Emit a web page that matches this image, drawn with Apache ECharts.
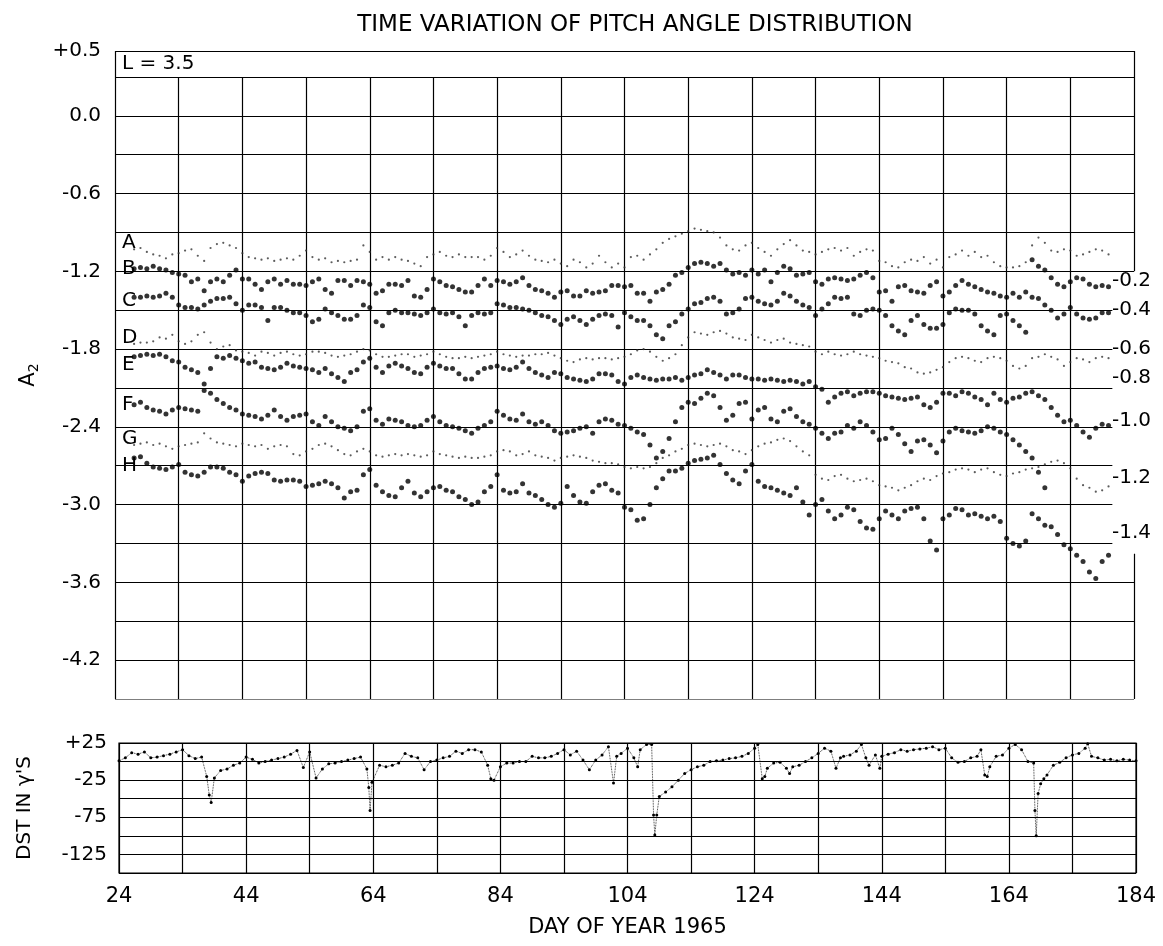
<!DOCTYPE html>
<html><head><meta charset="utf-8">
<script src="https://cdn.jsdelivr.net/npm/echarts@6/dist/echarts.min.js"></script>
<style>html,body{margin:0;padding:0;background:#fff}#c{width:1163px;height:946px}</style>
</head><body><div id="c"></div>
<script>
// ---------- DATA ----------
const FIRST_DAY = 27; // first plotted day of the A..H curves (one value per day)

const seriesA = [
-1.03,-1.02,-1.05,-1.07,-1.08,-1.10,-1.07,-1.06,-1.04,-1.03,-1.08,-1.12,-1.02,-0.99,-0.98,-1.00,-1.02,-1.06,-1.09,-1.10,-1.11,-1.10,-1.12,-1.11,-1.10,
-1.11,-1.08,-1.04,-1.09,-1.11,-1.10,-1.13,-1.12,-1.13,-1.12,-1.11,-1.00,-1.05,-1.11,-1.09,-1.11,-1.09,-1.11,-1.12,-1.14,-1.16,-1.09,-1.07,-1.05,-1.08,-1.09,-1.07,-1.09,
-1.09,-1.09,-1.11,-1.08,-1.02,-1.05,-1.09,-1.07,-1.04,-1.08,-1.11,-1.12,-1.13,-1.11,-1.14,-1.16,-1.11,-1.13,-1.17,-1.14,-1.08,-1.13,-1.17,-1.14,-1.17,-1.09,-1.08,
-1.11,-1.07,-1.03,-0.98,-0.95,-0.93,-0.91,-0.89,-0.87,-0.88,-0.89,-0.90,-0.94,-1.00,-1.03,-1.04,-1.00,-0.98,-1.02,-1.05,-1.08,-1.03,-0.99,-0.96,-1.00,-1.04,-1.05,
-1.07,-1.05,-1.03,-1.02,-1.04,-1.02,-1.08,-1.05,-1.03,-1.04,-1.12,-1.13,-1.16,-1.17,-1.13,-1.11,-1.12,-1.09,-1.14,-1.11,-1.17,-1.09,-1.07,-1.04,-1.08,-1.05,-1.09,-1.08,
-1.13,-1.16,-1.17,-1.17,-1.16,-1.13,-1.00,-0.94,-0.98,-1.04,-1.05,-1.03,-1.04,-1.08,-1.07,-1.05,-1.03,-1.04,-1.07];

const seriesB = [
-1.18,-1.17,-1.18,-1.16,-1.18,-1.19,-1.21,-1.22,-1.23,-1.28,-1.26,-1.35,-1.28,-1.26,-1.28,-1.23,-1.19,-1.26,-1.26,-1.30,-1.34,-1.28,-1.26,-1.30,-1.27,
-1.30,-1.30,-1.31,-1.28,-1.26,-1.34,-1.37,-1.27,-1.27,-1.31,-1.27,-1.28,-1.30,-1.37,-1.35,-1.30,-1.30,-1.31,-1.27,-1.39,-1.40,-1.34,-1.26,-1.28,-1.31,-1.32,-1.34,-1.36,
-1.36,-1.31,-1.26,-1.31,-1.27,-1.28,-1.30,-1.28,-1.25,-1.31,-1.34,-1.35,-1.37,-1.40,-1.36,-1.35,-1.39,-1.39,-1.35,-1.37,-1.36,-1.35,-1.31,-1.31,-1.32,-1.31,-1.37,
-1.37,-1.43,-1.36,-1.34,-1.30,-1.23,-1.21,-1.17,-1.14,-1.13,-1.14,-1.16,-1.14,-1.19,-1.22,-1.21,-1.23,-1.19,-1.22,-1.19,-1.28,-1.21,-1.16,-1.18,-1.23,-1.22,-1.21,
-1.28,-1.30,-1.26,-1.25,-1.26,-1.27,-1.26,-1.23,-1.21,-1.25,-1.36,-1.35,-1.43,-1.32,-1.31,-1.35,-1.36,-1.37,-1.31,-1.28,-1.39,-1.36,-1.31,-1.27,-1.30,-1.32,-1.34,-1.36,
-1.37,-1.39,-1.40,-1.37,-1.40,-1.36,-1.11,-1.16,-1.19,-1.25,-1.30,-1.32,-1.28,-1.25,-1.26,-1.30,-1.32,-1.31,-1.32];

const seriesC = [
-1.40,-1.40,-1.39,-1.40,-1.39,-1.37,-1.40,-1.46,-1.48,-1.48,-1.49,-1.46,-1.43,-1.41,-1.41,-1.40,-1.45,-1.50,-1.46,-1.46,-1.48,-1.58,-1.48,-1.48,-1.50,
-1.52,-1.52,-1.54,-1.59,-1.57,-1.49,-1.52,-1.54,-1.57,-1.57,-1.54,-1.46,-1.48,-1.59,-1.62,-1.52,-1.50,-1.52,-1.52,-1.53,-1.54,-1.52,-1.49,-1.52,-1.53,-1.52,-1.55,-1.62,
-1.54,-1.52,-1.53,-1.52,-1.45,-1.46,-1.48,-1.48,-1.49,-1.50,-1.52,-1.54,-1.55,-1.58,-1.61,-1.57,-1.55,-1.58,-1.61,-1.57,-1.54,-1.53,-1.54,-1.63,-1.52,-1.55,-1.58,
-1.58,-1.62,-1.69,-1.72,-1.62,-1.59,-1.53,-1.49,-1.45,-1.44,-1.41,-1.40,-1.43,-1.53,-1.52,-1.49,-1.41,-1.40,-1.43,-1.45,-1.46,-1.43,-1.37,-1.39,-1.43,-1.46,-1.48,
-1.54,-1.49,-1.45,-1.40,-1.41,-1.40,-1.53,-1.54,-1.50,-1.49,-1.50,-1.54,-1.62,-1.66,-1.69,-1.58,-1.54,-1.61,-1.64,-1.64,-1.61,-1.52,-1.49,-1.50,-1.50,-1.53,-1.62,-1.66,
-1.69,-1.54,-1.53,-1.58,-1.62,-1.67,-1.40,-1.41,-1.46,-1.50,-1.56,-1.53,-1.48,-1.53,-1.56,-1.57,-1.56,-1.52,-1.52];

const seriesD = [
-1.76,-1.75,-1.75,-1.74,-1.71,-1.72,-1.69,-1.74,-1.76,-1.74,-1.69,-1.67,-1.75,-1.80,-1.78,-1.77,-1.81,-1.82,-1.83,-1.85,-1.82,-1.83,-1.85,-1.83,-1.82,
-1.84,-1.85,-1.84,-1.82,-1.82,-1.83,-1.85,-1.86,-1.85,-1.84,-1.82,-1.80,-1.81,-1.84,-1.86,-1.86,-1.85,-1.84,-1.84,-1.86,-1.85,-1.84,-1.82,-1.84,-1.86,-1.87,-1.87,-1.86,
-1.87,-1.86,-1.85,-1.84,-1.82,-1.84,-1.85,-1.86,-1.85,-1.85,-1.84,-1.84,-1.83,-1.85,-1.87,-1.89,-1.90,-1.88,-1.87,-1.88,-1.87,-1.87,-1.88,-1.87,-1.86,-1.84,-1.81,
-1.80,-1.82,-1.86,-1.89,-1.87,-1.84,-1.77,-1.71,-1.67,-1.68,-1.69,-1.67,-1.66,-1.68,-1.71,-1.72,-1.73,-1.69,-1.71,-1.73,-1.75,-1.73,-1.72,-1.75,-1.76,-1.77,-1.78,
-1.82,-1.84,-1.82,-1.84,-1.85,-1.84,-1.82,-1.84,-1.85,-1.86,-1.87,-1.89,-1.90,-1.91,-1.94,-1.95,-1.98,-1.99,-1.98,-1.96,-1.94,-1.90,-1.87,-1.86,-1.87,-1.89,-1.90,-1.87,
-1.86,-1.87,-1.89,-1.93,-1.95,-1.93,-1.87,-1.86,-1.84,-1.86,-1.88,-1.93,-1.90,-1.87,-1.88,-1.90,-1.87,-1.86,-1.87];

const seriesE = [
-1.86,-1.85,-1.84,-1.85,-1.84,-1.86,-1.89,-1.90,-1.94,-1.96,-1.98,-2.07,-1.95,-1.86,-1.87,-1.85,-1.87,-1.89,-1.91,-1.90,-1.94,-1.95,-1.96,-1.94,-1.91,
-1.93,-1.94,-1.95,-1.96,-1.98,-1.95,-1.99,-2.02,-2.05,-1.98,-1.96,-1.90,-1.87,-1.94,-1.98,-1.93,-1.91,-1.93,-1.95,-1.98,-1.99,-1.94,-1.91,-1.93,-1.95,-1.95,-1.99,-2.03,
-2.03,-1.98,-1.95,-1.94,-1.93,-1.95,-1.96,-1.94,-1.90,-1.95,-1.98,-2.00,-2.02,-1.98,-1.99,-2.02,-2.03,-2.04,-2.05,-2.03,-1.99,-1.99,-2.00,-2.05,-2.07,-2.02,-2.00,
-2.02,-2.03,-2.04,-2.03,-2.03,-2.02,-2.04,-2.02,-2.00,-1.99,-1.96,-1.98,-2.00,-2.03,-2.00,-2.00,-2.02,-2.03,-2.03,-2.04,-2.03,-2.04,-2.05,-2.04,-2.05,-2.07,-2.05,
-2.09,-2.11,-2.21,-2.17,-2.14,-2.13,-2.16,-2.14,-2.13,-2.13,-2.14,-2.16,-2.17,-2.18,-2.19,-2.18,-2.17,-2.23,-2.25,-2.21,-2.14,-2.14,-2.16,-2.13,-2.14,-2.17,-2.19,-2.23,
-2.14,-2.19,-2.21,-2.18,-2.17,-2.14,-2.13,-2.16,-2.19,-2.25,-2.31,-2.36,-2.35,-2.39,-2.44,-2.48,-2.41,-2.38,-2.39];

const seriesF = [
-2.23,-2.21,-2.25,-2.27,-2.28,-2.30,-2.27,-2.25,-2.26,-2.27,-2.28,-2.12,-2.14,-2.19,-2.22,-2.25,-2.27,-2.30,-2.31,-2.32,-2.34,-2.31,-2.27,-2.32,-2.35,
-2.32,-2.31,-2.30,-2.36,-2.39,-2.32,-2.36,-2.40,-2.41,-2.43,-2.40,-2.28,-2.26,-2.35,-2.38,-2.34,-2.35,-2.36,-2.39,-2.40,-2.39,-2.35,-2.32,-2.36,-2.39,-2.40,-2.41,-2.43,
-2.45,-2.41,-2.39,-2.36,-2.28,-2.31,-2.34,-2.35,-2.30,-2.36,-2.38,-2.36,-2.39,-2.43,-2.45,-2.44,-2.43,-2.41,-2.40,-2.45,-2.36,-2.34,-2.35,-2.38,-2.39,-2.41,-2.44,
-2.46,-2.54,-2.64,-2.59,-2.49,-2.36,-2.25,-2.21,-2.22,-2.18,-2.14,-2.16,-2.25,-2.35,-2.31,-2.22,-2.21,-2.34,-2.27,-2.25,-2.34,-2.36,-2.28,-2.26,-2.32,-2.36,-2.38,
-2.41,-2.45,-2.49,-2.45,-2.44,-2.39,-2.41,-2.36,-2.39,-2.44,-2.50,-2.49,-2.41,-2.46,-2.53,-2.59,-2.51,-2.50,-2.54,-2.60,-2.51,-2.44,-2.41,-2.43,-2.44,-2.45,-2.43,-2.40,
-2.41,-2.44,-2.46,-2.50,-2.54,-2.59,-2.64,-2.75,-2.87];

const seriesG = [
-2.54,-2.53,-2.52,-2.54,-2.53,-2.55,-2.57,-2.55,-2.54,-2.53,-2.52,-2.45,-2.49,-2.52,-2.53,-2.54,-2.55,-2.53,-2.54,-2.55,-2.54,-2.57,-2.55,-2.54,-2.55,
-2.61,-2.62,-2.59,-2.57,-2.54,-2.53,-2.55,-2.58,-2.61,-2.62,-2.59,-2.57,-2.59,-2.62,-2.63,-2.62,-2.61,-2.62,-2.61,-2.62,-2.63,-2.62,-2.59,-2.61,-2.62,-2.63,-2.64,-2.63,
-2.64,-2.64,-2.63,-2.62,-2.59,-2.58,-2.59,-2.62,-2.61,-2.59,-2.62,-2.63,-2.64,-2.66,-2.64,-2.63,-2.62,-2.63,-2.64,-2.66,-2.67,-2.68,-2.68,-2.69,-2.71,-2.72,-2.71,
-2.72,-2.71,-2.68,-2.64,-2.62,-2.59,-2.57,-2.54,-2.53,-2.54,-2.55,-2.54,-2.53,-2.55,-2.58,-2.59,-2.61,-2.58,-2.55,-2.53,-2.52,-2.50,-2.49,-2.51,-2.55,-2.59,-2.62,
-2.77,-2.80,-2.81,-2.78,-2.77,-2.80,-2.82,-2.81,-2.80,-2.82,-2.85,-2.86,-2.87,-2.89,-2.87,-2.85,-2.82,-2.80,-2.81,-2.78,-2.76,-2.75,-2.73,-2.72,-2.73,-2.75,-2.73,-2.72,
-2.75,-2.77,-2.78,-2.76,-2.75,-2.73,-2.72,-2.71,-2.69,-2.67,-2.66,-2.68,-2.72,-2.80,-2.85,-2.87,-2.90,-2.89,-2.86];

const seriesH = [
-2.64,-2.63,-2.68,-2.71,-2.72,-2.73,-2.71,-2.69,-2.75,-2.77,-2.78,-2.75,-2.71,-2.71,-2.72,-2.75,-2.77,-2.82,-2.78,-2.76,-2.75,-2.76,-2.81,-2.82,-2.81,
-2.81,-2.82,-2.86,-2.85,-2.84,-2.82,-2.84,-2.87,-2.95,-2.90,-2.89,-2.77,-2.73,-2.85,-2.90,-2.93,-2.94,-2.87,-2.82,-2.91,-2.94,-2.90,-2.87,-2.86,-2.89,-2.90,-2.94,-2.96,
-3.00,-2.98,-2.90,-2.86,-2.77,-2.89,-2.91,-2.90,-2.84,-2.91,-2.93,-2.96,-3.00,-3.02,-2.99,-2.86,-2.93,-2.98,-2.99,-2.90,-2.85,-2.84,-2.89,-2.91,-3.02,-3.04,-3.12,
-3.11,-3.00,-2.87,-2.80,-2.74,-2.74,-2.72,-2.68,-2.66,-2.65,-2.64,-2.62,-2.69,-2.76,-2.81,-2.84,-2.74,-2.69,-2.82,-2.86,-2.87,-2.89,-2.91,-2.93,-2.87,-2.98,-3.08,
-3.00,-2.96,-3.05,-3.11,-3.08,-3.02,-3.04,-3.13,-3.18,-3.19,-3.11,-3.05,-3.08,-3.11,-3.05,-3.03,-3.02,-3.11,-3.28,-3.35,-3.11,-3.08,-3.03,-3.04,-3.08,-3.07,-3.09,-3.11,
-3.09,-3.13,-3.26,-3.30,-3.32,-3.28,-3.07,-3.11,-3.16,-3.17,-3.23,-3.31,-3.34,-3.39,-3.44,-3.52,-3.57,-3.44,-3.39];

// Dst (gammas) — day of year and value
const dstDay = [24,25,26,27,28,29,30,31,32,33,34,35,36,37,37.8,38.2,38.5,39,40,41,42,43,44,45,46,47,48,49,50,51,52,53,54,55,56,57,58,59,60,61,62,63,63.3,63.5,63.8,65,66,67,68,69,70,71,72,73,74,75,76,77,78,79,80,81,82,82.5,83,84,85,86,87,88,89,90,91,92,93,94,95,96,97,98,99,100,101,101.8,102.3,103,104,105,105.6,106,107,107.8,108.1,108.3,108.6,109,110,111,112,113,114,115,116,117,118,119,120,121,122,123,124,124.5,125.2,125.6,126,127,128,129,129.5,130,131,132,133,134,135,136,136.8,137.5,138,139,140,140.8,141.5,142,143,143.7,144,145,146,147,148,149,150,151,152,153,154,155,156,157,158,159,159.6,160.2,160.6,161,162,163,164,165,166,167,167.9,168.1,168.3,168.6,169,169.5,170,171,172,173,174,175,176,176.4,177,178,179,180,181,182,183,184];
const dstVal = [1,5,12,10,13,5,6,8,10,13,16,8,4,6,-20,-45,-55,-22,-12,-10,-5,-2,6,3,-2,0,2,4,6,10,15,-8,13,-22,-10,-3,-2,0,2,4,6,-10,-35,-66,-28,-5,-7,-5,-2,11,7,5,-11,0,2,5,7,14,11,16,16,13,-5,-23,-25,-7,-2,-2,0,0,7,5,5,7,11,16,9,14,2,-11,2,9,20,-29,7,11,18,5,-7,16,23,23,-72,-99,-72,-47,-41,-34,-25,-16,-11,-7,-5,0,1,2,4,5,7,11,18,23,-23,-20,-9,-2,-1,-9,-16,-7,-5,0,5,11,18,14,-9,5,7,9,14,23,5,-5,9,-9,7,10,12,16,14,16,17,18,20,16,18,5,-1,0,5,7,16,-18,-20,-7,7,9,18,23,16,0,-2,-66,-100,-43,-30,-23,-18,-5,-1,5,9,11,18,24,7,5,2,3,1,3,2,1];

// tick labels
const a2TickLabels = {'0.5':'+0.5','0.0':'0.0','-0.6':'-0.6','-1.2':'-1.2','-1.8':'-1.8','-2.4':'-2.4','-3.0':'-3.0','-3.6':'-3.6','-4.2':'-4.2'};
const dayTickLabels = [24,44,64,84,104,124,144,164,184];
const dstTickLabels = {'25':'+25','-25':'-25','-75':'-75','-125':'-125'};
const curveLetters = ['L = 3.5','A','B','C','D','E','F','G','H'];
const curveLetterPos = [0.40,-0.98,-1.18,-1.43,-1.71,-1.92,-2.23,-2.49,-2.70];
const rightScaleLabels = ['-0.2','-0.4','-0.6','-0.8','-1.0','-1.2','-1.4'];
const rightScalePos = [-1.27,-1.50,-1.80,-2.02,-2.35,-2.79,-3.22];

// ---------- BUILD ----------
const FONT = 'DejaVu Sans';
const xy = arr => arr.map((v, i) => [FIRST_DAY + i, v]);
const nearestLabel = (v, pos, labels) => {
  let best = 0, bd = Infinity;
  pos.forEach((p, i) => { const d = Math.abs(p - v); if (d < bd) { bd = d; best = i; } });
  return bd < 0.02 ? labels[best] : '';
};

// frame & grid lines of the upper panel (gap in the right frame where the right-hand scale sits)
const X0 = 24, X1 = 184, XSTEP = 10, YMIN = -4.5, YTOP = 0.5, YSTEP = 0.3;
const shortLineEnd = 180.6, gapTop = -1.2, gapBottom = -3.38;
const frameLines = [];
for (let d = X0; d <= X1 + 1e-9; d += XSTEP) {
  if (d === X0) frameLines.push({coords: [[d, YMIN], [d, YTOP]]});
  else if (d === X1) {
    frameLines.push({coords: [[d, gapTop], [d, YTOP]]});
    frameLines.push({coords: [[d, YMIN], [d, gapBottom]]});
  } else frameLines.push({coords: [[d, YMIN], [d, 0.3]]});
}
const hLevels = [];
for (let k = 0; YMIN + k * YSTEP <= 0.3 + 1e-9; k++) hLevels.push(Math.round((YMIN + k * YSTEP) * 10) / 10);
hLevels.push(YTOP);
hLevels.forEach(y => {
  const end = (y <= -1.5 + 1e-9 && y >= -3.3 - 1e-9) ? shortLineEnd : X1;
  frameLines.push({coords: [[X0, y], [end, y]]});
});

const chart = echarts.init(document.getElementById('c'), null, {renderer: 'canvas'});
const faint = (name, data) => ({
  name, type: 'scatter', xAxisIndex: 0, yAxisIndex: 0, data: xy(data),
  symbol: 'circle', symbolSize: 2.2, itemStyle: {color: '#333'}, silent: true, z: 3
});
const bold = (name, data) => ({
  name, type: 'scatter', xAxisIndex: 0, yAxisIndex: 0, data: xy(data),
  symbol: 'circle', symbolSize: 5, itemStyle: {color: '#000'}, silent: true, z: 4
});

const option = {
  animation: false,
  backgroundColor: '#fff',
  textStyle: {fontFamily: FONT, color: '#000'},
  title: {
    text: 'TIME VARIATION OF PITCH ANGLE DISTRIBUTION',
    left: 630, top: 9, textAlign: 'center',
    textStyle: {fontFamily: FONT, fontWeight: 'normal', fontSize: 23, color: '#000'}
  },
  grid: [
    {left: 115, top: 51, width: 1019, height: 648, show: false, outerBoundsMode: 'none'},
    {left: 119, top: 743, width: 1017, height: 130, show: true, borderColor: '#000', borderWidth: 1.2, backgroundColor: 'transparent', outerBoundsMode: 'none'}
  ],
  xAxis: [
    {gridIndex: 0, type: 'value', min: X0, max: X1, interval: XSTEP,
     axisLine: {show: false, onZero: false}, axisTick: {show: false}, axisLabel: {show: false}, splitLine: {show: false}},
    {gridIndex: 1, type: 'value', min: X0, max: X1, interval: XSTEP,
     axisLine: {show: false, onZero: false}, axisTick: {show: false},
     splitLine: {show: true, lineStyle: {color: '#000', width: 1.2}},
     axisLabel: {fontSize: 21, color: '#000', margin: 13, fontFamily: FONT,
       formatter: v => dayTickLabels.includes(Math.round(v)) ? String(Math.round(v)) : ''},
     name: 'DAY OF YEAR 1965', nameLocation: 'middle', nameGap: 44,
     nameTextStyle: {fontSize: 21, color: '#000', fontFamily: FONT}}
  ],
  yAxis: [
    {gridIndex: 0, type: 'value', min: YMIN, max: YTOP, interval: YSTEP, position: 'left',
     axisLine: {show: false, onZero: false}, axisTick: {show: false}, splitLine: {show: false},
     axisLabel: {fontSize: 20, color: '#000', margin: 14, fontFamily: FONT,
       formatter: v => a2TickLabels[(Math.round(v * 10) / 10 + 0).toFixed(1)] || ''},
     name: '{a|A}{s|2}', nameLocation: 'middle', nameGap: 72, nameRotate: 90,
     nameTextStyle: {rich: {a: {fontSize: 21, fontFamily: FONT, color: '#000'}, s: {fontSize: 14, fontFamily: FONT, color: '#000', verticalAlign: 'bottom', padding: [12, 0, 0, 0]}}}},
    {gridIndex: 0, type: 'value', min: YMIN, max: YTOP, position: 'right', offset: -22,
     axisLine: {show: false, onZero: false}, axisTick: {show: false}, splitLine: {show: false},
     axisLabel: {customValues: rightScalePos, fontSize: 20, color: '#000', margin: 0, fontFamily: FONT,
       formatter: v => nearestLabel(v, rightScalePos, rightScaleLabels)}},
    {gridIndex: 0, type: 'value', min: YMIN, max: YTOP, position: 'left',
     axisLine: {show: false, onZero: false}, axisTick: {show: false}, splitLine: {show: false},
     axisLabel: {inside: true, customValues: curveLetterPos, fontSize: 20, color: '#000', margin: 7, fontFamily: FONT,
       formatter: v => nearestLabel(v, curveLetterPos, curveLetters)}},
    {gridIndex: 1, type: 'value', min: -150, max: 25, interval: 25, position: 'left',
     axisLine: {show: false, onZero: false}, axisTick: {show: false},
     splitLine: {show: true, lineStyle: {color: '#000', width: 1.2}},
     axisLabel: {fontSize: 20, color: '#000', margin: 12, fontFamily: FONT,
       formatter: v => dstTickLabels[String(Math.round(v))] || ''},
     name: "DST IN γ'S", nameLocation: 'middle', nameGap: 84, nameRotate: 90,
     nameTextStyle: {fontSize: 20, color: '#000', fontFamily: FONT}}
  ],
  series: [
    {type: 'lines', coordinateSystem: 'cartesian2d', xAxisIndex: 0, yAxisIndex: 0, data: frameLines,
     lineStyle: {color: '#000', width: 1.2, opacity: 1}, silent: true, z: 1, animation: false},
    faint('A', seriesA),
    bold('B', seriesB),
    bold('C', seriesC),
    faint('D', seriesD),
    bold('E', seriesE),
    bold('F', seriesF),
    faint('G', seriesG),
    bold('H', seriesH),
    {name: 'Dst', type: 'line', xAxisIndex: 1, yAxisIndex: 3,
     data: dstDay.map((d, i) => [d, dstVal[i]]),
     symbol: 'circle', symbolSize: 3, showSymbol: true, itemStyle: {color: '#000'},
     lineStyle: {color: '#000', width: 0.8, type: 'dotted'}, silent: true, z: 4}
  ]
};
chart.setOption(option);
</script>
</body></html>
